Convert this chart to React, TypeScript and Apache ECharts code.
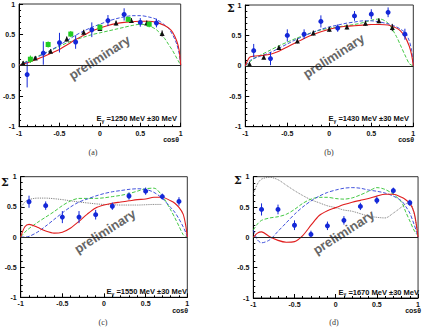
import React, { useEffect, useRef } from "react";
import * as echarts from "echarts";

// Common cos(theta) sampling used by the model curves
const COS_GRID = [-1, -0.95, -0.9, -0.8, -0.7, -0.6, -0.5, -0.4, -0.3, -0.2, -0.1, 0, 0.1, 0.2, 0.3, 0.4, 0.5, 0.6, 0.7, 0.8, 0.85, 0.9, 0.95, 0.98, 1];
const X_TICKS = [-1, -0.5, 0, 0.5, 1];

// (a) E_gamma = 1250 MeV
const aBlueCos = [-0.9, -0.7, -0.5, -0.3, -0.1, 0.1, 0.3, 0.5, 0.7];
const aBlueSigma = [-0.15, 0.2, 0.37, 0.38, 0.58, 0.73, 0.83, 0.7, 0.69];
const aBlueErr = [0.21, 0.19, 0.16, 0.11, 0.12, 0.09, 0.1, 0.07, 0.07];
const aGreenCos = [-0.86, -0.64, -0.36, 0.0, 0.35, 0.61];
const aGreenSigma = [0.1, 0.34, 0.51, 0.62, 0.75, 0.67];
const aGreenErr = [0.06, 0.05, 0.05, 0.05, 0.04, 0.05];
const aBlackCos = [-0.95, -0.8, -0.61, -0.41, -0.2, 0.0, 0.2, 0.39, 0.58, 0.77];
const aBlackSigma = [0.04, 0.12, 0.23, 0.43, 0.54, 0.6, 0.69, 0.73, 0.69, 0.52];
const aBlackErr = [0.03, 0.03, 0.03, 0.04, 0.04, 0.04, 0.04, 0.04, 0.04, 0.05];
const aRed = [0, 0.02, 0.04, 0.09, 0.14, 0.2, 0.26, 0.34, 0.42, 0.49, 0.56, 0.61, 0.65, 0.68, 0.7, 0.71, 0.72, 0.72, 0.7, 0.65, 0.61, 0.54, 0.4, 0.25, 0];
const aBlue = [0, 0.03, 0.06, 0.12, 0.18, 0.25, 0.33, 0.41, 0.49, 0.56, 0.62, 0.67, 0.72, 0.76, 0.79, 0.81, 0.81, 0.79, 0.75, 0.66, 0.6, 0.5, 0.35, 0.2, 0];
const aGreen = [0, 0.035, 0.07, 0.13, 0.19, 0.25, 0.31, 0.37, 0.42, 0.46, 0.5, 0.53, 0.56, 0.59, 0.62, 0.65, 0.67, 0.65, 0.58, 0.44, 0.34, 0.24, 0.12, 0.05, 0];

// (b) E_gamma = 1430 MeV
const bBlueCos = [-0.9, -0.7, -0.5, -0.3, -0.1, 0.1, 0.3, 0.5, 0.7, 0.9];
const bBlueSigma = [0.25, 0.12, 0.5, 0.52, 0.73, 0.62, 0.82, 0.85, 0.88, 0.52];
const bBlueErr = [0.11, 0.11, 0.1, 0.08, 0.1, 0.06, 0.08, 0.08, 0.08, 0.09];
const bBlackCos = [-0.95, -0.78, -0.6, -0.38, -0.19, 0.0, 0.21, 0.43, 0.59, 0.75];
const bBlackSigma = [0.03, 0.14, 0.3, 0.41, 0.54, 0.6, 0.64, 0.7, 0.74, 0.63];
const bBlackErr = [0.03, 0.03, 0.03, 0.04, 0.04, 0.04, 0.04, 0.04, 0.04, 0.06];
const bRed = [0, 0.14, 0.16, 0.17, 0.19, 0.24, 0.31, 0.38, 0.45, 0.51, 0.56, 0.6, 0.63, 0.65, 0.66, 0.67, 0.68, 0.68, 0.67, 0.62, 0.57, 0.48, 0.33, 0.18, 0];
const bBlue = [0, 0.08, 0.12, 0.17, 0.22, 0.29, 0.36, 0.43, 0.49, 0.55, 0.6, 0.64, 0.67, 0.7, 0.72, 0.74, 0.74, 0.72, 0.69, 0.64, 0.6, 0.55, 0.42, 0.25, 0];
const bGreen = [0, 0.06, 0.12, 0.19, 0.26, 0.33, 0.39, 0.45, 0.5, 0.55, 0.59, 0.62, 0.64, 0.66, 0.68, 0.71, 0.75, 0.77, 0.7, 0.48, 0.33, 0.18, 0.04, 0.01, 0];

// (c) E_gamma = 1550 MeV
const cBlueCos = [-0.9, -0.7, -0.5, -0.3, -0.1, 0.1, 0.3, 0.5, 0.7, 0.9];
const cBlueSigma = [0.585, 0.52, 0.33, 0.33, 0.37, 0.51, 0.68, 0.76, 0.67, 0.59];
const cBlueErr = [0.1, 0.07, 0.1, 0.1, 0.08, 0.06, 0.06, 0.06, 0.05, 0.07];
const cRed = [0, 0.17, 0.21, 0.16, 0.1, 0.065, 0.08, 0.15, 0.26, 0.38, 0.48, 0.53, 0.56, 0.58, 0.6, 0.62, 0.63, 0.66, 0.66, 0.6, 0.56, 0.49, 0.38, 0.2, 0];
const cBlue = [0, 0, 0.01, 0.08, 0.18, 0.29, 0.4, 0.5, 0.58, 0.63, 0.68, 0.72, 0.75, 0.77, 0.79, 0.8, 0.79, 0.74, 0.64, 0.49, 0.41, 0.3, 0.17, 0.08, 0];
const cGreen = [0, 0.08, 0.14, 0.24, 0.33, 0.42, 0.52, 0.6, 0.64, 0.64, 0.64, 0.65, 0.67, 0.69, 0.72, 0.76, 0.8, 0.81, 0.68, 0.45, 0.32, 0.18, 0.04, 0.01, 0];
const cBlack = [0.48, 0.58, 0.62, 0.645, 0.645, 0.635, 0.62, 0.6, 0.58, 0.565, 0.55, 0.54, 0.535, 0.53, 0.53, 0.53, 0.535, 0.54, 0.54, null, null, null, null, null, null];

// (d) E_gamma = 1670 MeV
const dBlueCos = [-0.9, -0.7, -0.5, -0.3, -0.1, 0.1, 0.3, 0.5, 0.7, 0.9];
const dBlueSigma = [0.46, 0.46, 0.2, 0.05, 0.19, 0.28, 0.51, 0.61, 0.77, 0.57];
const dBlueErr = [0.1, 0.08, 0.08, 0.06, 0.07, 0.07, 0.06, 0.06, 0.05, 0.05];
const dRed = [0, 0.07, 0.09, 0.01, -0.05, -0.08, -0.07, 0.03, 0.2, 0.36, 0.44, 0.49, 0.54, 0.58, 0.61, 0.64, 0.68, 0.71, 0.71, 0.66, 0.62, 0.56, 0.42, 0.2, 0];
const dBlue = [0.12, -0.04, -0.09, -0.04, 0.1, 0.24, 0.38, 0.5, 0.6, 0.68, 0.74, 0.78, 0.81, 0.82, 0.81, 0.78, 0.76, 0.73, 0.68, 0.6, 0.51, 0.4, 0.22, 0.1, 0];
const dGreen = [0.12, 0.22, 0.28, 0.32, 0.34, 0.38, 0.46, 0.56, 0.63, 0.66, 0.66, 0.64, 0.63, 0.65, 0.7, 0.76, 0.82, 0.79, 0.71, 0.58, 0.42, 0.27, 0.12, 0.06, 0.03];
const dBlack = [0.72, 0.88, 0.96, 0.99, 0.95, 0.86, 0.77, 0.69, 0.62, 0.57, 0.52, 0.49, 0.45, 0.43, 0.39, 0.35, 0.33, 0.32, 0.4, 0.5, 0.55, 0.58, 0.4, 0.2, 0.05];

const ENERGIES = ["1250", "1430", "1550", "1670"];
const CAPTIONS = ["(a)", "(b)", "(c)", "(d)"];

const C_RED = "#e01e1e";
const C_BLUE = "#2c3fd8";
const C_GREEN = "#2fc22f";
const C_DOT = "#6a6a6a";
const P_BLUE = "#1428d8";
const P_GREEN = "#22cc22";
const P_BLACK = "#111111";
const FONT = "Liberation Sans, Arial, sans-serif";

type Curve = { values: (number | null)[]; color: string; dash: "solid" | "dashed" | "dotted"; width: number };
type PointSet = { cos: number[]; sigma: number[]; err: number[]; color: string; symbol: string; size: number };

const PANELS: {
  box: { left: number; top: number; width: number; height: number };
  curves: Curve[];
  points: PointSet[];
  mark: { x: number; y: number };
  energyRight: number;
  energyY: number;
  cosRight: number;
  cosY: number;
  sigma?: { x: number; y: number };
  caption: { x: number; y: number };
}[] = [
  {
    box: { left: 13.3, top: 4, width: 167.4, height: 122.7 },
    curves: [
      { values: aGreen, color: C_GREEN, dash: "dashed", width: 0.9 },
      { values: aBlue, color: C_BLUE, dash: "dashed", width: 0.9 },
      { values: aRed, color: C_RED, dash: "solid", width: 1.1 },
    ],
    points: [
      { cos: aBlackCos, sigma: aBlackSigma, err: aBlackErr, color: P_BLACK, symbol: "triangle", size: 5 },
      { cos: aGreenCos, sigma: aGreenSigma, err: aGreenErr, color: P_GREEN, symbol: "rect", size: 5 },
      { cos: aBlueCos, sigma: aBlueSigma, err: aBlueErr, color: P_BLUE, symbol: "circle", size: 5 },
    ],
    mark: { x: 99.5, y: 57.5 },
    energyRight: 177,
    energyY: 118.5,
    cosRight: 179,
    cosY: 139.5,
    caption: { x: 93, y: 152 },
  },
  {
    box: { left: 245.3, top: 5, width: 168, height: 121.7 },
    curves: [
      { values: bGreen, color: C_GREEN, dash: "dashed", width: 0.9 },
      { values: bBlue, color: C_BLUE, dash: "dashed", width: 0.9 },
      { values: bRed, color: C_RED, dash: "solid", width: 1.1 },
    ],
    points: [
      { cos: bBlackCos, sigma: bBlackSigma, err: bBlackErr, color: P_BLACK, symbol: "triangle", size: 5 },
      { cos: bBlueCos, sigma: bBlueSigma, err: bBlueErr, color: P_BLUE, symbol: "circle", size: 5 },
    ],
    mark: { x: 333.7, y: 56 },
    energyRight: 409,
    energyY: 118.5,
    cosRight: 414,
    cosY: 139.5,
    sigma: { x: 231, y: 8 },
    caption: { x: 329, y: 152 },
  },
  {
    box: { left: 20.7, top: 176.7, width: 166.6, height: 120.6 },
    curves: [
      { values: cBlack, color: C_DOT, dash: "dotted", width: 0.9 },
      { values: cGreen, color: C_GREEN, dash: "dashed", width: 0.9 },
      { values: cBlue, color: C_BLUE, dash: "dashed", width: 0.9 },
      { values: cRed, color: C_RED, dash: "solid", width: 1.1 },
    ],
    points: [{ cos: cBlueCos, sigma: cBlueSigma, err: cBlueErr, color: P_BLUE, symbol: "circle", size: 5 }],
    mark: { x: 105, y: 231.3 },
    energyRight: 187,
    energyY: 291.5,
    cosRight: 188,
    cosY: 310,
    sigma: { x: 5, y: 182 },
    caption: { x: 103, y: 322 },
  },
  {
    box: { left: 253.3, top: 176.7, width: 167.7, height: 121.3 },
    curves: [
      { values: dBlack, color: C_DOT, dash: "dotted", width: 0.9 },
      { values: dGreen, color: C_GREEN, dash: "dashed", width: 0.9 },
      { values: dBlue, color: C_BLUE, dash: "dashed", width: 0.9 },
      { values: dRed, color: C_RED, dash: "solid", width: 1.1 },
    ],
    points: [{ cos: dBlueCos, sigma: dBlueSigma, err: dBlueErr, color: P_BLUE, symbol: "circle", size: 5 }],
    mark: { x: 343.7, y: 232.3 },
    energyRight: 419,
    energyY: 292,
    cosRight: 421,
    cosY: 310.5,
    sigma: { x: 238, y: 180.5 },
    caption: { x: 334, y: 322 },
  },
];

function buildOption() {
  const axisLabel = { fontSize: 7, fontWeight: "bold" as const, color: "#111", fontFamily: FONT, showMinLabel: true, showMaxLabel: true };
  const grid = PANELS.map((p) => ({ ...p.box, show: true, borderColor: "#333", borderWidth: 1, backgroundColor: "transparent" }));
  const xAxis = PANELS.map((_, i) => ({
    gridIndex: i,
    type: "value" as const,
    min: X_TICKS[0],
    max: X_TICKS[X_TICKS.length - 1],
    interval: 0.5,
    axisLine: { onZero: false, lineStyle: { color: "#000", width: 1 } },
    axisTick: { inside: true, length: 4, lineStyle: { color: "#000" } },
    minorTick: { show: true, splitNumber: 5, length: 2, lineStyle: { color: "#000" } },
    splitLine: { show: false },
    axisLabel: { ...axisLabel, margin: 3 },
  }));
  const yAxis = PANELS.map((_, i) => ({
    gridIndex: i,
    type: "value" as const,
    min: -1,
    max: 1,
    interval: 0.5,
    axisLine: { onZero: false, lineStyle: { color: "#000", width: 1 } },
    axisTick: { inside: true, length: 4, lineStyle: { color: "#000" } },
    minorTick: { show: true, splitNumber: 5, length: 2, lineStyle: { color: "#000" } },
    splitLine: { show: false },
    axisLabel: { ...axisLabel, margin: 4 },
  }));

  const series: any[] = [];
  PANELS.forEach((p, i) => {
    p.curves.forEach((c, k) => {
      const data = COS_GRID.map((x, j) => [x, c.values[j]]).filter((d) => d[1] !== null && d[1] !== undefined);
      series.push({
        type: "line",
        xAxisIndex: i,
        yAxisIndex: i,
        data,
        showSymbol: false,
        smooth: 0.3,
        z: 2,
        lineStyle: { color: c.color, width: c.width, type: c.dash },
        markLine:
          k === 0
            ? {
                silent: true,
                symbol: ["none", "none"],
                label: { show: false },
                lineStyle: { color: "#222", width: 1, type: "solid" },
                data: [{ yAxis: 0 }],
              }
            : undefined,
      });
    });
    p.points.forEach((s) => {
      const data = s.cos.map((x, j) => [x, s.sigma[j], s.err[j]]);
      series.push({
        type: "custom",
        xAxisIndex: i,
        yAxisIndex: i,
        z: 3,
        encode: { x: 0, y: 1 },
        data,
        renderItem: (_params: any, api: any) => {
          const x = api.value(0);
          const y = api.value(1);
          const e = api.value(2);
          const lo = api.coord([x, y - e]);
          const hi = api.coord([x, y + e]);
          return {
            type: "line",
            shape: { x1: lo[0], y1: lo[1], x2: hi[0], y2: hi[1] },
            style: { stroke: s.color, lineWidth: 1 },
          };
        },
      });
      series.push({
        type: "scatter",
        xAxisIndex: i,
        yAxisIndex: i,
        z: 4,
        symbol: s.symbol,
        symbolSize: s.size,
        itemStyle: { color: s.color, opacity: 1 },
        data: data.map((d) => [d[0], d[1]]),
      });
    });
  });

  const graphic: any[] = [];
  PANELS.forEach((p, i) => {
    graphic.push({
      type: "text",
      x: p.mark.x,
      y: p.mark.y,
      rotation: 0.57,
      z: 1,
      silent: true,
      style: {
        text: "preliminary",
        font: `bold 13px ${FONT}`,
        fill: "#666666",
        align: "center",
        verticalAlign: "middle",
      },
    });
    graphic.push({
      type: "text",
      x: p.energyRight,
      y: p.energyY,
      z: 5,
      style: {
        text: `{e|E}{g|γ}{t| =${ENERGIES[i]} MeV ±30 MeV}`,
        align: "right",
        verticalAlign: "middle",
        rich: {
          e: { fontSize: 7.5, fontWeight: "bold", fontFamily: FONT, fill: "#111" },
          g: { fontSize: 5, fontWeight: "bold", fontFamily: FONT, fill: "#111", padding: [4, 0, 0, 0] },
          t: { fontSize: 7.5, fontWeight: "bold", fontFamily: FONT, fill: "#111" },
        },
      },
    });
    graphic.push({
      type: "text",
      x: p.cosRight,
      y: p.cosY,
      style: {
        text: "cosθ",
        font: `bold 7px ${FONT}`,
        fill: "#111",
        align: "right",
        verticalAlign: "middle",
      },
    });
    if (p.sigma) {
      graphic.push({
        type: "text",
        x: p.sigma.x,
        y: p.sigma.y,
        style: {
          text: "Σ",
          font: `bold 11px DejaVu Serif, serif`,
          fill: "#111",
          align: "center",
          verticalAlign: "middle",
        },
      });
    }
    graphic.push({
      type: "text",
      x: p.caption.x,
      y: p.caption.y,
      style: {
        text: CAPTIONS[i],
        font: `8px Liberation Serif, serif`,
        fill: "#333",
        align: "center",
        verticalAlign: "middle",
      },
    });
  });

  return {
    animation: false,
    backgroundColor: "#ffffff",
    grid,
    xAxis,
    yAxis,
    series,
    graphic,
  };
}

export default function App() {
  const ref = useRef<HTMLDivElement>(null);
  useEffect(() => {
    if (!ref.current) return;
    const chart = echarts.init(ref.current, undefined, { renderer: "svg" });
    chart.setOption(buildOption() as any);
    return () => chart.dispose();
  }, []);
  return (
    <div
      ref={ref}
      style={{ position: "fixed", left: 0, top: 0, width: 423, height: 330, background: "#fff" }}
    />
  );
}
